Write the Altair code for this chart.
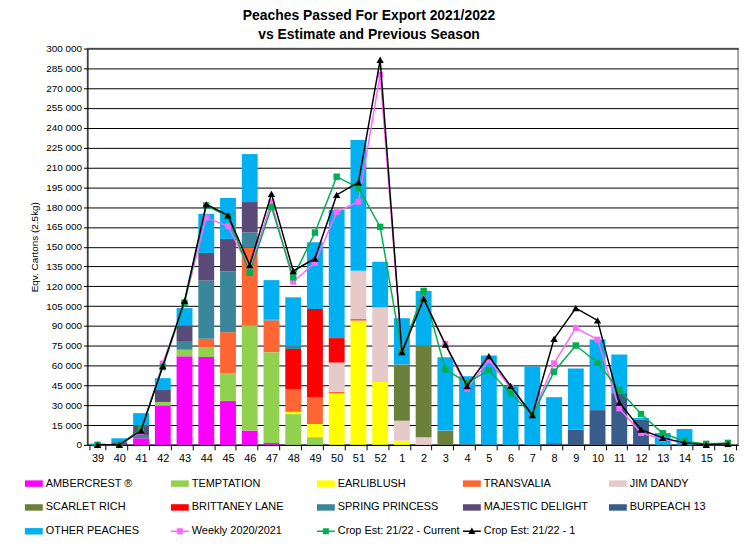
import altair as alt
import pandas as pd

weeks = ["39", "40", "41", "42", "43", "44", "45", "46", "47", "48", "49", "50", "51", "52",
         "1", "2", "3", "4", "5", "6", "7", "8", "9", "10", "11", "12", "13", "14", "15", "16"]

ambercrest = [0, 0, 5000, 29500, 67000, 66500, 33300, 10800, 1500, 0, 0, 0, 0, 0,
              0, 0, 0, 0, 0, 0, 0, 0, 0, 0, 0, 0, 0, 0, 0, 0]
temptation = [0, 0, 0, 3000, 5000, 7500, 21000, 79500, 68700, 23300, 5800, 0, 0, 0,
              0, 0, 0, 0, 0, 0, 0, 0, 0, 0, 0, 0, 0, 0, 0, 0]
earliblush = [0, 0, 0, 0, 0, 0, 0, 0, 0, 1700, 10000, 39000, 94000, 47600,
              3200, 0, 0, 0, 0, 0, 0, 0, 0, 0, 0, 0, 0, 0, 0, 0]
transvalia = [0, 0, 0, 0, 0, 6300, 31000, 59000, 24000, 17000, 20000, 1300, 1300, 0,
              0, 0, 0, 0, 0, 0, 0, 0, 0, 0, 0, 0, 0, 0, 0, 0]
jim_dandy = [0, 0, 0, 0, 0, 0, 0, 0, 0, 0, 0, 22000, 36500, 56400,
             15000, 5800, 0, 0, 0, 0, 0, 0, 0, 0, 0, 0, 0, 0, 0, 0]
scarlet_rich = [0, 0, 0, 0, 0, 0, 0, 0, 0, 0, 0, 0, 0, 0,
                42700, 69600, 10800, 500, 0, 0, 0, 0, 0, 0, 0, 0, 0, 0, 0, 0]
brittaney_lane = [0, 0, 0, 0, 0, 0, 0, 0, 0, 30600, 67000, 18500, 0, 0,
                  0, 0, 0, 0, 0, 0, 0, 0, 0, 0, 0, 0, 0, 0, 0, 0]
spring_princess = [0, 0, 2500, 0, 6000, 44000, 46000, 11500, 500, 2500, 0, 0, 0, 0,
                   0, 0, 0, 0, 0, 0, 0, 0, 0, 0, 0, 0, 0, 0, 0, 0]
majestic_delight = [0, 2000, 7000, 9000, 12500, 21000, 24600, 23000, 0, 0, 0, 0, 0, 0,
                    0, 0, 0, 0, 0, 0, 0, 0, 0, 0, 0, 0, 0, 0, 0, 0]
burpeach_13 = [0, 0, 0, 0, 0, 0, 0, 0, 0, 0, 0, 0, 0, 0,
               0, 0, 0, 0, 0, 0, 0, 1300, 11500, 26300, 39100, 19000, 0, 0, 0, 0]
other_peaches = [1000, 3000, 9500, 9000, 13000, 29600, 31000, 36300, 30000, 36600, 50600, 97000, 99000, 34600,
                 35000, 41000, 55600, 51400, 67700, 44400, 59400, 34800, 46400, 53400, 29300, 1300, 9000, 12000, 0, 0]

weekly_2020_2021 = [0, 0, 10000, 61600, 108000, 172000, 165400, 133000, 183700, 123500, 137800, 176200, 184000, 280200,
                    71000, 111000, 76300, 42600, 64100, 43400, 22600, 61700, 88500, 79700, 27600, 9000, 4500, 1500, 0, 500]
crop_est_current = [0, 0, 12000, 58900, 107300, 181200, 173000, 130300, 180000, 126800, 160700, 203000, 194500, 165000,
                    70000, 116500, 57100, 47100, 56400, 39100, 22600, 55400, 75200, 62200, 41600, 23300, 8800, 2800, 750, 1500]
crop_est_minus1 = [0, 0, 10800, 59600, 109000, 182000, 173700, 136100, 190000, 131600, 141100, 189200, 198700, 291500,
                   70200, 110500, 76000, 44600, 67200, 44600, 22600, 80200, 103500, 94200, 32100, 11500, 5300, 1500, 0, 750]

varieties = ["AMBERCREST ®", "TEMPTATION", "EARLIBLUSH", "TRANSVALIA", "JIM DANDY",
             "SCARLET RICH", "BRITTANEY LANE", "SPRING PRINCESS", "MAJESTIC DELIGHT", "BURPEACH 13",
             "OTHER PEACHES"]
variety_values = [ambercrest, temptation, earliblush, transvalia, jim_dandy, scarlet_rich,
                  brittaney_lane, spring_princess, majestic_delight, burpeach_13, other_peaches]
variety_colors = ["#FF00FF", "#92D050", "#FFFF00", "#FF6633", "#E6C9C9", "#6B803A",
                  "#FF0000", "#3A879B", "#5A4A78", "#385D8A", "#00B0F0"]

line_names = ["Weekly 2020/2021", "Crop Est: 21/22 - Current", "Crop Est: 21/22 - 1"]
line_values = [weekly_2020_2021, crop_est_current, crop_est_minus1]
line_colors = ["#FF66FF", "#00B050", "#000000"]
line_shapes = ["square", "square", "triangle-up"]
line_marker_sizes = [36, 42, 55]

FONT = "Liberation Sans"

all_names = varieties + line_names
all_colors = variety_colors + line_colors
rect_path = "M-1,-0.36H1V0.36H-1Z"
sq_path = "M-1,-0.08H1V0.08H-1Z M-0.34,-0.34H0.34V0.34H-0.34Z"
tri_path = "M-1,-0.08H1V0.08H-1Z M0,-0.42L0.4,0.3H-0.4Z"
all_paths = [rect_path] * len(varieties) + [sq_path, sq_path, tri_path]

color_scale = alt.Scale(domain=all_names, range=all_colors)
shape_scale = alt.Scale(domain=all_names, range=all_paths)

leg = alt.Legend(title=None, orient="none", legendX=-63, legendY=429, columns=5,
                 direction="horizontal",
                 gridAlign="all", columnPadding=3, rowPadding=10, symbolSize=324,
                 symbolOpacity=1, symbolStrokeWidth=0, labelFont=FONT, labelFontSize=11,
                 labelColor="#000000", labelOffset=3, padding=0, symbolLimit=0, labelLimit=300)

rows = []
for i, (name, vals) in enumerate(zip(varieties, variety_values)):
    for w, v in zip(weeks, vals):
        rows.append({"week": w, "series": name, "value": v, "order": i})
bars_df = pd.DataFrame(rows)

x_axis = alt.Axis(title=None, labelAngle=0, labelFont=FONT, labelFontSize=11,
                  labelColor="#000000", labelPadding=3, tickBand="extent",
                  tickSize=5, tickColor="#000000", domainColor="#000000", grid=False)
x_scale = alt.Scale(paddingInner=0.27, paddingOuter=0.1)
y_scale = alt.Scale(domain=[0, 300000], nice=False, zero=True)
y_axis = alt.Axis(values=list(range(0, 300001, 15000)),
                  labelExpr="replace(format(datum.value, ','), ',', ' ')",
                  labelFont=FONT, labelFontSize=10, labelColor="#000000", labelPadding=2,
                  tickSize=4, tickColor="#000000", domainColor="#000000",
                  grid=True, gridColor="#000000", gridWidth=1,
                  title="Eqv. Cartons (2.5kg)", titleFont=FONT, titleFontSize=10,
                  titleFontWeight="normal", titleColor="#000000", titlePadding=6)

bars = alt.Chart(bars_df).mark_bar().encode(
    x=alt.X("week:N", sort=weeks, scale=x_scale, axis=x_axis),
    y=alt.Y("value:Q", stack="zero", scale=y_scale, axis=y_axis),
    color=alt.Color("series:N", scale=color_scale, legend=leg),
    order=alt.Order("order:Q", sort="ascending"),
)

layers = [bars]
for name, vals, col, shp, sz in zip(line_names, line_values, line_colors, line_shapes, line_marker_sizes):
    df = pd.DataFrame({"week": weeks, "value": vals})
    base = alt.Chart(df).encode(
        x=alt.X("week:N", sort=weeks, scale=x_scale, axis=x_axis),
        y=alt.Y("value:Q", scale=y_scale, axis=y_axis),
    )
    layers.append(base.mark_line(color=col, strokeWidth=1.5))
    layers.append(base.mark_point(shape=shp, filled=True, color=col, size=sz, opacity=1))

legend_df = pd.DataFrame({"series": all_names})
legend_layer = alt.Chart(legend_df).mark_point(filled=True, opacity=0, size=324).encode(
    color=alt.Color("series:N", scale=color_scale, legend=leg),
    shape=alt.Shape("series:N", scale=shape_scale, legend=leg),
)
layers.append(legend_layer)

chart = alt.layer(*layers).properties(
    width=655, height=399,
    padding={"left": 80, "top": 39, "right": 10, "bottom": 100},
    autosize=alt.AutoSizeParams(type="none"),
    background="#FFFFFF",
    title=alt.TitleParams(["Peaches Passed For Export 2021/2022", "vs Estimate and Previous Season"],
                          font=FONT, fontSize=14, fontWeight="bold", color="#000000",
                          anchor="middle", dx=-44, offset=2, lineHeight=19),
).configure_view(stroke="#8C8C8C", strokeWidth=1.5)

chart.save("out.html", embed_options={"renderer": "svg", "actions": False})
